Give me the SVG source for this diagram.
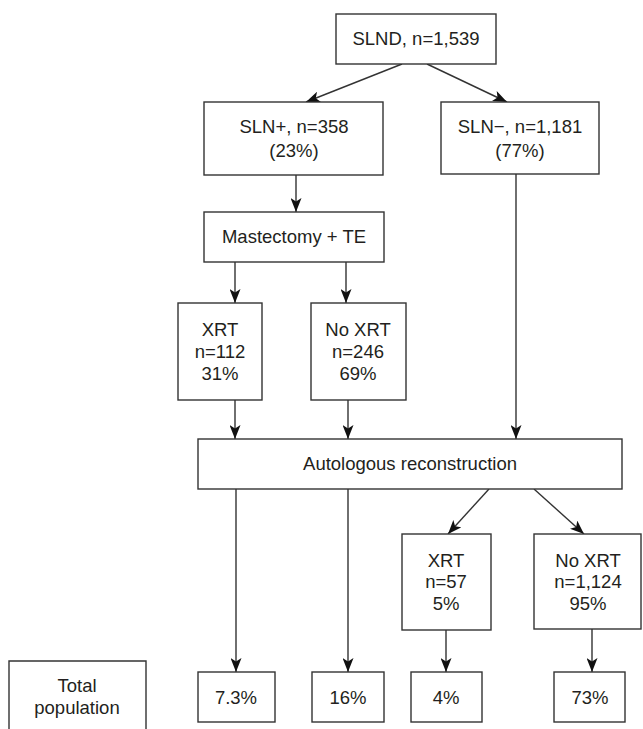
<svg xmlns="http://www.w3.org/2000/svg" width="643" height="729" viewBox="0 0 643 729">
<style>
.box{fill:#fff;stroke:#333;stroke-width:1.4}
.t{font-family:"Liberation Sans",Arial,sans-serif;font-size:18.5px;fill:#231f20;text-anchor:middle}
.c{stroke:#333;stroke-width:1.4;fill:none;marker-end:url(#ah)}
</style>
<defs>
<marker id="ah" viewBox="0 0 14 11" refX="14" refY="5.5" markerWidth="14" markerHeight="11" markerUnits="userSpaceOnUse" orient="auto">
<path d="M0,0 L14,5.5 L0,11 L3.5,5.5 Z" fill="#111"/>
</marker>
</defs>
<rect width="643" height="729" fill="#fff"/>
<g id="connectors">
<line class="c" x1="402" y1="64" x2="306" y2="102"/>
<line class="c" x1="427" y1="64" x2="507" y2="102"/>
<line class="c" x1="296" y1="175" x2="296" y2="212"/>
<line class="c" x1="235" y1="262" x2="235" y2="303"/>
<line class="c" x1="346" y1="262" x2="346" y2="303"/>
<line class="c" x1="235" y1="400" x2="235" y2="439"/>
<line class="c" x1="348" y1="400" x2="348" y2="439"/>
<line class="c" x1="516" y1="174" x2="516" y2="439"/>
<line class="c" x1="489" y1="489" x2="448" y2="534"/>
<line class="c" x1="534" y1="489" x2="584" y2="534"/>
<line class="c" x1="236" y1="489" x2="236" y2="672"/>
<line class="c" x1="348" y1="489" x2="348" y2="672"/>
<line class="c" x1="446" y1="630" x2="446" y2="672"/>
<line class="c" x1="592" y1="629" x2="592" y2="672"/>
</g>
<g id="slnd"><rect class="box" x="336" y="14" width="160" height="50"/><text class="t" x="416" y="45">SLND, n=1,539</text></g>
<g id="slnpos"><rect class="box" x="204" y="102" width="179" height="73"/><text class="t" x="294" y="133">SLN+, n=358</text><text class="t" x="294" y="157">(23%)</text></g>
<g id="slnneg"><rect class="box" x="441" y="102" width="158" height="72"/><text class="t" x="520" y="133">SLN−, n=1,181</text><text class="t" x="520" y="157">(77%)</text></g>
<g id="mast"><rect class="box" x="204" y="212" width="180" height="50"/><text class="t" x="294" y="243">Mastectomy + TE</text></g>
<g id="xrt1"><rect class="box" x="178" y="303" width="84" height="97"/><text class="t" x="220" y="336">XRT</text><text class="t" x="220" y="358">n=112</text><text class="t" x="220" y="380">31%</text></g>
<g id="noxrt1"><rect class="box" x="311" y="303" width="95" height="97"/><text class="t" x="358" y="336">No XRT</text><text class="t" x="358" y="358">n=246</text><text class="t" x="358" y="380">69%</text></g>
<g id="auto"><rect class="box" x="198" y="439" width="424" height="50"/><text class="t" x="410" y="470">Autologous reconstruction</text></g>
<g id="xrt2"><rect class="box" x="402" y="534" width="89" height="96"/><text class="t" x="446" y="567">XRT</text><text class="t" x="446" y="588">n=57</text><text class="t" x="446" y="610">5%</text></g>
<g id="noxrt2"><rect class="box" x="534" y="534" width="107" height="95"/><text class="t" x="588" y="567">No XRT</text><text class="t" x="588" y="588">n=1,124</text><text class="t" x="588" y="610">95%</text></g>
<g id="total"><path class="box" d="M9,729 V661 H146 V729"/><text class="t" x="77" y="692">Total</text><text class="t" x="77" y="714">population</text></g>
<g id="r1"><rect class="box" x="198" y="672" width="77" height="50"/><text class="t" x="236" y="704">7.3%</text></g>
<g id="r2"><rect class="box" x="312" y="672" width="72" height="50"/><text class="t" x="348" y="704">16%</text></g>
<g id="r3"><rect class="box" x="411" y="672" width="71" height="50"/><text class="t" x="446" y="704">4%</text></g>
<g id="r4"><rect class="box" x="554" y="672" width="71" height="50"/><text class="t" x="590" y="704">73%</text></g>
</svg>
